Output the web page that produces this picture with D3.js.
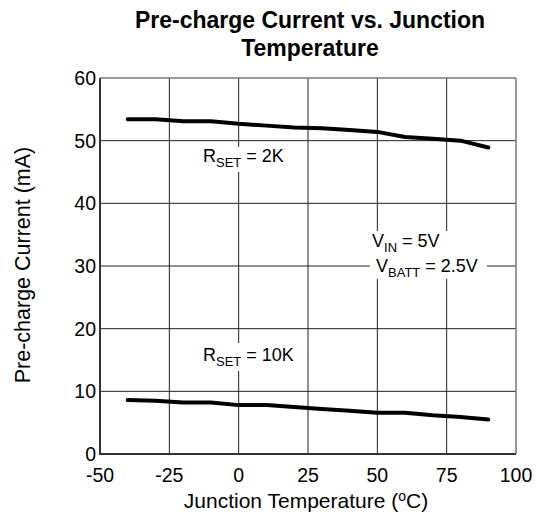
<!DOCTYPE html>
<html><head><meta charset="utf-8">
<script src="https://cdn.jsdelivr.net/npm/d3@7"></script>
<style>body{margin:0;background:#fff}text{font-family:"Liberation Sans",Arial,sans-serif;fill:#000}</style>
</head><body><svg id="c" width="537" height="516"></svg>
<script>
const temps = [-40,-30,-20,-10,0,10,20,30,40,50,60,70,80,90];
const rset2k = [53.4,53.4,53.1,53.1,52.7,52.4,52.1,52.0,51.7,51.4,50.6,50.3,50.0,48.9];
const rset10k = [8.6,8.5,8.2,8.2,7.8,7.8,7.5,7.2,6.9,6.6,6.6,6.2,5.9,5.5];
const xTicks = [-50,-25,0,25,50,75,100];
const yTicks = [0,10,20,30,40,50,60];

const svg = d3.select("#c");
const L=100,R=516,T=78,B=454;
const x = d3.scaleLinear().domain([-50,100]).range([L,R]);
const y = d3.scaleLinear().domain([0,60]).range([B,T]);

// grid
const g = svg.append("g");
g.selectAll(".vx").data(xTicks.slice(1,-1)).enter().append("line")
 .attr("x1",d=>x(d)).attr("x2",d=>x(d)).attr("y1",T).attr("y2",B)
 .attr("stroke","#222").attr("stroke-width",1);
g.selectAll(".hy").data(yTicks.slice(1,-1)).enter().append("line")
 .attr("x1",L).attr("x2",R).attr("y1",d=>y(d)).attr("y2",d=>y(d))
 .attr("stroke","#222").attr("stroke-width",1);
// frame
svg.append("line").attr("x1",L).attr("x2",R).attr("y1",T).attr("y2",T).attr("stroke","#777").attr("stroke-width",1.5);
svg.append("line").attr("x1",R).attr("x2",R).attr("y1",T).attr("y2",B).attr("stroke","#777").attr("stroke-width",1.5);
svg.append("line").attr("x1",L).attr("x2",L).attr("y1",T).attr("y2",B+1).attr("stroke","#333").attr("stroke-width",2);
svg.append("line").attr("x1",L-1).attr("x2",R).attr("y1",B).attr("y2",B).attr("stroke","#333").attr("stroke-width",2);

// tick labels
svg.selectAll(".xl").data(xTicks).enter().append("text")
 .attr("x",d=>x(d)).attr("y",482).attr("text-anchor","middle").attr("font-size",19.5)
 .text(d=>d);
svg.selectAll(".yl").data(yTicks).enter().append("text")
 .attr("x",96).attr("y",d=>y(d)).attr("dy","0.36em").attr("text-anchor","end").attr("font-size",19.5)
 .text(d=>d);

// label backgrounds
function bgRect(x0,y0,w,h){svg.append("rect").attr("x",x0).attr("y",y0).attr("width",w).attr("height",h).attr("fill","#fff");}
bgRect(199,147,92,25);
bgRect(199,343,100,28);
bgRect(370,231,117,48);

// lines
const line = d3.line().x((d,i)=>x(temps[i])).y(d=>y(d));
[rset2k,rset10k].forEach(s=>{
 svg.append("path").attr("d",line(s)).attr("fill","none").attr("stroke","#000").attr("stroke-width",4).attr("stroke-linecap","round").attr("stroke-linejoin","round");
});

// annotations
function sub(xp,yp,main,subs,rest){
 const t=svg.append("text").attr("x",xp).attr("y",yp).attr("font-size",18);
 t.append("tspan").text(main);
 t.append("tspan").attr("font-size",13).attr("dy",5).text(subs);
 t.append("tspan").attr("dy",-5).text(rest);
}
sub(203,162,"R","SET"," = 2K");
sub(203,361,"R","SET"," = 10K");
sub(372,247,"V","IN"," = 5V");
sub(376,272,"V","BATT"," = 2.5V");

// titles
svg.append("text").attr("x",310).attr("y",28).attr("text-anchor","middle").attr("font-size",23).attr("font-weight","bold").text("Pre-charge Current vs. Junction");
svg.append("text").attr("x",310).attr("y",56).attr("text-anchor","middle").attr("font-size",23).attr("font-weight","bold").text("Temperature");
const xt = svg.append("text").attr("x",306).attr("y",508).attr("text-anchor","middle").attr("font-size",21);
xt.append("tspan").text("Junction Temperature (");
xt.append("tspan").attr("font-size",14).attr("dy",-7).text("o");
xt.append("tspan").attr("dy",7).text("C)");
svg.append("text").attr("transform","translate(30,265) rotate(-90)").attr("text-anchor","middle").attr("font-size",21.5).text("Pre-charge Current (mA)");
</script></body></html>
